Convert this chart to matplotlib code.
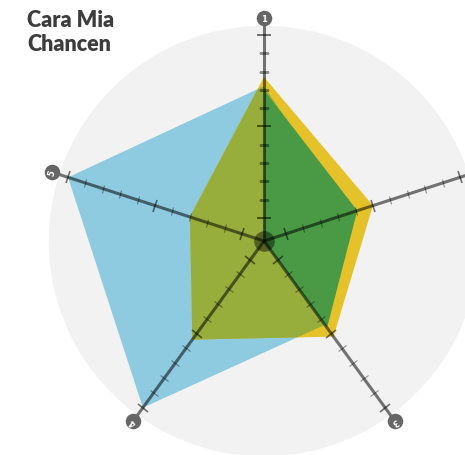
import numpy as np
import matplotlib.pyplot as plt
from matplotlib.markers import MarkerStyle
from matplotlib.transforms import Affine2D

# chart data (0..10 scale on each spoke)
categories = ['1', '2', '3', '4', '5']
yellow_vals = [7.7, 5.0, 5.2, 5.4, 3.0]
blue_vals = [7.2, 3.6, 4.4, 10.0, 10.0]
green_vals = [7.0, 4.1, 4.6, None, None]   # no value -> goes to the hub
tick_vals = list(range(0, 11))
major_ticks = [0, 5, 10]

title = 'Cara Mia\nChancen'

# styling
YELLOW = '#e5c12a'
BLUE = '#8ecbe0'
OLIVE = '#97ad3c'
GREEN = '#4a9a45'
BG = '#f2f2f2'
INK = (0, 0, 0, 0.53)
TICK_INK = (0, 0, 0, 0.4)

R_MIN = -1.26      # hub sits below zero
R_MAX = 11.6
R_BG = 10.5
R_LABEL = 10.9
PX_PER_UNIT = 18.3


def spoke_angles(n):
    return np.arange(n) * 2 * np.pi / n


def closed(theta, vals):
    r = [R_MIN if v is None else v for v in vals]
    return np.append(theta, theta[0]), np.append(r, r[0])


def main():
    W, H = 465, 456
    cx, cy = 264, 242
    fig = plt.figure(figsize=(W / 100, H / 100), dpi=100)

    rad = (R_MAX - R_MIN) * PX_PER_UNIT
    ax = fig.add_axes([(cx - rad) / W, (H - cy - rad) / H, 2 * rad / W, 2 * rad / H],
                      projection='polar')
    ax.set_theta_zero_location('N')
    ax.set_theta_direction(-1)
    ax.set_ylim(R_MIN, R_MAX)
    ax.axis('off')

    theta = spoke_angles(len(categories))

    # gray disc
    t = np.linspace(0, 2 * np.pi, 361)
    ax.fill(t, np.full_like(t, R_BG), color=BG, lw=0, zorder=0)

    # series
    ax.fill(*closed(theta, blue_vals), color=BLUE, lw=0, zorder=1)
    yellow_patch = ax.fill(*closed(theta, yellow_vals), color=YELLOW, lw=0, zorder=2)[0]
    overlap = ax.fill(*closed(theta, blue_vals), color=OLIVE, lw=0, zorder=3)[0]
    overlap.set_clip_path(yellow_patch)
    ax.fill(*closed(theta, green_vals), color=GREEN, lw=0, zorder=4)

    # spokes, ticks and labels
    for th, lab in zip(theta, categories):
        ax.plot([th, th], [R_MIN, R_LABEL], color=INK, lw=2.2,
                solid_capstyle='butt', zorder=5)
        # math angle of the spoke on screen
        phi = 90 - np.degrees(th)
        for v in tick_vals:
            big = v in major_ticks
            m = MarkerStyle('|', transform=Affine2D().rotate_deg(phi))
            ax.plot([th], [v], marker=m, ms=9.5 if big else 6.5,
                    mew=1.2 if big else 0.8, color=INK if big else TICK_INK,
                    ls='none', zorder=6)
        ax.scatter([th], [R_LABEL], s=125, color='#666666', lw=0, zorder=7,
                   clip_on=False)
        ax.text(th, R_LABEL, lab, color='white', fontsize=6, fontweight='bold',
                ha='center', va='center', rotation=-np.degrees(th),
                rotation_mode='anchor', zorder=8, clip_on=False)

    # hub
    ax.scatter([0], [R_MIN], s=220, color=(0, 0, 0, 0.44), lw=0, zorder=7)

    fig.text(27 / W, 1 - 10 / H, title, ha='left', va='top', fontsize=15.5,
             fontweight='heavy', family='Lato', color='#3d3d3d', linespacing=1.2)

    fig.savefig('out.png', dpi=100)


if __name__ == '__main__':
    main()
